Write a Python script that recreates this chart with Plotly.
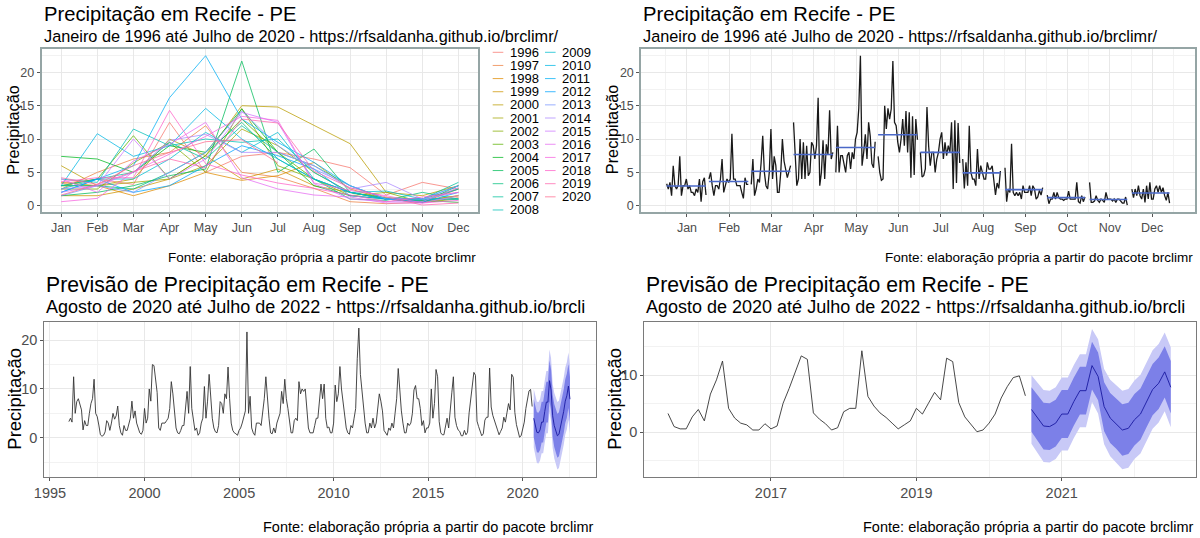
import math
import plotly.graph_objects as go

# ---------------- data ----------------
months = ["Jan", "Feb", "Mar", "Apr", "May", "Jun", "Jul", "Aug", "Sep", "Oct", "Nov", "Dec"]
years = list(range(1996, 2021))

p1996 = [3.3, 4.0, 3.2, 12.5, 5.0, 7.4, 8.0, 7.0, 5.7, 1.6, 3.5, 2.5]
p1997 = [2.5, 5.0, 7.0, 8.0, 12.0, 5.0, 4.3, 2.6, 0.6, 0.3, 0.5, 1.2]
p1998 = [3.5, 3.0, 1.5, 3.0, 5.0, 3.8, 4.5, 6.5, 2.5, 1.0, 0.5, 2.5]
p1999 = [1.5, 1.5, 2.5, 4.0, 7.5, 4.0, 5.5, 3.0, 2.0, 1.0, 0.7, 1.5]
p2000 = [6.0, 3.0, 4.0, 10.0, 7.5, 15.0, 14.8, 12.0, 9.3, 2.0, 1.5, 3.0]
p2001 = [3.0, 3.0, 3.5, 4.0, 6.0, 11.5, 9.0, 5.0, 2.0, 1.0, 0.8, 1.5]
p2002 = [2.5, 2.5, 6.4, 9.5, 5.0, 14.6, 6.0, 4.0, 1.5, 2.0, 0.5, 1.0]
p2003 = [3.0, 4.0, 10.5, 4.0, 7.5, 13.0, 8.0, 4.0, 2.0, 1.2, 1.0, 2.5]
p2004 = [7.4, 7.0, 5.0, 9.0, 8.0, 14.5, 8.0, 3.0, 1.5, 1.0, 0.8, 0.5]
p2005 = [1.5, 2.0, 3.0, 4.5, 5.5, 21.7, 5.0, 8.5, 2.0, 1.0, 0.5, 3.0]
p2006 = [3.0, 3.0, 2.5, 5.0, 8.0, 12.5, 7.0, 4.0, 1.0, 0.8, 2.0, 1.0]
p2007 = [3.0, 4.0, 5.0, 9.5, 7.0, 12.0, 8.0, 6.0, 3.0, 1.0, 1.0, 3.5]
p2008 = [4.0, 3.5, 11.5, 9.0, 10.0, 9.5, 10.0, 5.0, 2.0, 1.0, 1.0, 1.0]
p2009 = [2.5, 4.0, 4.0, 7.0, 11.0, 8.0, 11.0, 4.0, 2.0, 2.2, 1.0, 1.0]
p2010 = [3.0, 10.8, 7.4, 9.0, 14.6, 10.0, 7.0, 4.0, 2.0, 1.0, 0.7, 2.5]
p2011 = [2.0, 4.0, 6.0, 16.2, 22.5, 13.0, 9.5, 6.5, 3.0, 1.0, 1.0, 3.0]
p2012 = [2.0, 4.0, 2.0, 3.0, 6.0, 9.0, 7.5, 5.5, 1.5, 1.0, 0.5, 2.0]
p2013 = [1.5, 3.0, 2.0, 5.0, 8.0, 14.2, 9.0, 5.5, 3.0, 1.0, 1.0, 3.0]
p2014 = [2.5, 3.0, 5.0, 9.8, 10.7, 8.0, 8.0, 6.0, 2.5, 3.5, 1.0, 2.0]
p2015 = [2.0, 3.0, 10.0, 4.0, 7.0, 14.0, 12.5, 3.3, 1.0, 0.6, 0.6, 2.7]
p2016 = [4.0, 2.0, 6.7, 9.2, 12.5, 4.2, 2.5, 1.6, 1.3, 0.4, 0.4, 1.5]
p2017 = [0.6, 1.1, 5.1, 7.7, 10.4, 13.4, 12.8, 3.4, 2.3, 1.5, 0.4, 0.8]
p2018 = [3.6, 4.2, 4.2, 14.3, 6.3, 4.6, 3.4, 2.6, 1.6, 0.6, 1.3, 2.0]
p2019 = [4.2, 3.2, 5.1, 7.0, 5.7, 13.0, 12.4, 5.2, 2.7, 1.3, 0.1, 0.4]
p2020 = [1.6, 3.2, 6.0, 8.0, 9.6, 9.9, 6.4]

# forecast Aug 2020 - Jul 2022
fc_mean = [4.0, 2.5, 1.1, 1.0, 1.6, 3.2, 3.2, 5.4, 7.3, 7.3, 11.7, 9.8,
           4.5, 2.5, 1.5, 0.4, 0.7, 2.2, 3.2, 5.4, 7.5, 8.6, 10.6, 7.9]
fc_hi95 = [10.0, 8.7, 7.4, 7.3, 7.9, 9.6, 9.6, 11.8, 13.7, 13.7, 18.1, 16.3,
           11.1, 9.2, 8.3, 7.3, 7.6, 9.1, 10.1, 12.3, 14.4, 15.5, 17.5, 14.9]
fc_lo95 = [-2.0, -3.7, -5.2, -5.3, -4.7, -3.2, -3.2, -1.0, 0.9, 0.9, 5.3, 3.3,
           -2.1, -4.2, -5.3, -6.5, -6.2, -4.7, -3.7, -1.5, 0.6, 1.7, 3.7, 0.9]
fc_hi80 = [7.9, 6.5, 5.2, 5.1, 5.7, 7.4, 7.4, 9.6, 11.5, 11.5, 15.9, 14.0,
           8.8, 6.9, 5.9, 4.9, 5.2, 6.7, 7.7, 9.9, 12.0, 13.1, 15.1, 12.5]
fc_lo80 = [0.1, -1.5, -3.0, -3.1, -2.5, -1.0, -1.0, 1.2, 3.1, 3.1, 7.5, 5.6,
           0.2, -1.9, -2.9, -4.1, -3.8, -2.3, -1.3, 0.9, 3.0, 4.1, 6.1, 3.3]

by_year = [p1996, p1997, p1998, p1999, p2000, p2001, p2002, p2003, p2004, p2005,
           p2006, p2007, p2008, p2009, p2010, p2011, p2012, p2013, p2014, p2015,
           p2016, p2017, p2018, p2019, p2020]

series = [v for yr in by_year for v in yr]
t_series = [1996 + k / 12 for k in range(len(series))]
t_fc = [2020 + 7 / 12 + j / 12 for j in range(len(fc_mean))]

# ---------------- helpers ----------------
W, H = 1200, 538
FONT = "Liberation Sans, Arial, sans-serif"


def px(x):
    return x / W


def py(y):
    return 1 - y / H


def hcl_hex(h, c=100.0, l=65.0):
    wy, wu, wv = 100.0, 0.1978398, 0.4683363
    hr = math.radians(h)
    U, V = c * math.cos(hr), c * math.sin(hr)
    Y = wy * (((l + 16) / 116) ** 3 if l > 7.999592 else l / 903.3)
    u = U / (13 * l) + wu
    v = V / (13 * l) + wv
    X = 9.0 * Y * u / (4 * v)
    Z = -X / 3 - 5 * Y + 3 * Y / v

    def g(x):
        return 1.055 * x ** (1 / 2.4) - 0.055 if x > 0.00304 else 12.92 * x

    r = g((3.240479 * X - 1.537150 * Y - 0.498535 * Z) / wy)
    gg = g((-0.969256 * X + 1.875992 * Y + 0.041556 * Z) / wy)
    b = g((0.055648 * X - 0.204043 * Y + 1.057311 * Z) / wy)
    cl = [max(0, min(255, round(255 * q))) for q in (r, gg, b)]
    return "#%02x%02x%02x" % tuple(cl)


n = len(years)
colors = [hcl_hex((15 + i * 14.4) % 360) for i in range(n)]

fig = go.Figure()

# ---------------- panel 1: per-year lines ----------------
for i, yr in enumerate(years):
    vals = by_year[i]
    fig.add_trace(go.Scatter(
        x=list(range(1, len(vals) + 1)), y=vals, mode="lines",
        line=dict(color=colors[i], width=1), opacity=0.75,
        xaxis="x", yaxis="y", showlegend=False, name=str(yr)))

# ---------------- panel 2: subseries plot ----------------
for m in range(12):
    vals = [by_year[k][m] for k in range(n) if len(by_year[k]) > m]
    xs = [m + 1 - 0.48 + k * 0.03875 for k in range(len(vals))]
    fig.add_trace(go.Scatter(x=xs, y=vals, mode="lines",
                             line=dict(color="#1a1a1a", width=1.3),
                             xaxis="x2", yaxis="y2", showlegend=False))
    mu = sum(vals) / len(vals)
    fig.add_trace(go.Scatter(x=[xs[0], xs[-1]], y=[mu, mu], mode="lines",
                             line=dict(color="#4a68c8", width=1.6),
                             xaxis="x2", yaxis="y2", showlegend=False))

# ---------------- panels 3/4: series + forecast ----------------
LIGHT = "#c8c9f7"
DARK = "#7c80e8"
for xa, ya, sl in (("x3", "y3", slice(0, None)), ("x4", "y4", slice(-60, None))):
    fig.add_trace(go.Scatter(x=t_series[sl], y=series[sl], mode="lines",
                             line=dict(color="#333333", width=0.9),
                             xaxis=xa, yaxis=ya, showlegend=False))
    fig.add_trace(go.Scatter(x=t_fc, y=fc_lo95, mode="lines", line=dict(width=0, color=LIGHT),
                             xaxis=xa, yaxis=ya, showlegend=False))
    fig.add_trace(go.Scatter(x=t_fc, y=fc_hi95, mode="lines", line=dict(width=0, color=LIGHT),
                             fill="tonexty", fillcolor=LIGHT,
                             xaxis=xa, yaxis=ya, showlegend=False))
    fig.add_trace(go.Scatter(x=t_fc, y=fc_lo80, mode="lines", line=dict(width=0, color=DARK),
                             xaxis=xa, yaxis=ya, showlegend=False))
    fig.add_trace(go.Scatter(x=t_fc, y=fc_hi80, mode="lines", line=dict(width=0, color=DARK),
                             fill="tonexty", fillcolor=DARK,
                             xaxis=xa, yaxis=ya, showlegend=False))
    fig.add_trace(go.Scatter(x=t_fc, y=fc_mean, mode="lines",
                             line=dict(color="#1a1aa0", width=0.9),
                             xaxis=xa, yaxis=ya, showlegend=False))

# ---------------- axes ----------------
GRID = "#e8e8e8"
MINOR = "#f2f2f2"
TICKC = "#4d4d4d"


def axis(domain, anchor, rng, border, bw, fs, **kw):
    d = dict(domain=domain, anchor=anchor, range=rng, showline=True, mirror=True,
             linecolor=border, linewidth=bw, showgrid=True, gridcolor=GRID, gridwidth=1,
             zeroline=False, ticks="outside", ticklen=3, tickcolor="#555555",
             automargin=False,
             tickfont=dict(family=FONT, size=fs, color=TICKC), fixedrange=True)
    d.update(kw)
    return d


TOP = (48.7, 211.7)
BOT = (321.7, 476.7)
ytop = [py(TOP[1]), py(TOP[0])]
ybot = [py(BOT[1]), py(BOT[0])]
B1 = "#95a5a5"
B2 = "#7a7a7a"

fig.update_layout(
    xaxis=axis([px(41.7), px(478.3)], "y", [0.46, 12.55], B1, 2, 12.5,
               tickmode="array", tickvals=list(range(1, 13)), ticktext=months),
    yaxis=axis(ytop, "x", [-0.9, 23.55], B1, 2, 12.5, tick0=0, dtick=5,
               minor=dict(tick0=2.5, dtick=5, showgrid=True, gridcolor=MINOR, gridwidth=0.7)),
    xaxis2=axis([px(641.3), px(1195.3)], "y2", [-0.08, 13.02], B1, 2, 12.5,
                tickmode="array", tickvals=list(range(1, 13)), ticktext=months,
                minor=dict(tickmode="linear", tick0=0.5, dtick=1, showgrid=True, gridcolor=MINOR, gridwidth=0.7)),
    yaxis2=axis(ytop, "x2", [-0.9, 23.55], B1, 2, 12.5, tick0=0, dtick=5,
                minor=dict(tick0=2.5, dtick=5, showgrid=True, gridcolor=MINOR, gridwidth=0.7)),
    xaxis3=axis([px(44.3), px(595.7)], "y3", [1994.70, 2023.86], B2, 1.2, 14.5,
                tick0=1995, dtick=5,
                minor=dict(tick0=1997.5, dtick=5, showgrid=True, gridcolor=MINOR, gridwidth=0.7)),
    yaxis3=axis(ybot, "x3", [-8.0, 23.8], B2, 1.2, 14.5, tick0=0, dtick=10,
                minor=dict(tick0=5, dtick=10, showgrid=True, gridcolor=MINOR, gridwidth=0.7)),
    xaxis4=axis([px(644.3), px(1195.7)], "y4", [2015.257, 2022.843], B2, 1.2, 14.5,
                tick0=2017, dtick=2,
                minor=dict(tick0=2016, dtick=2, showgrid=True, gridcolor=MINOR, gridwidth=0.7)),
    yaxis4=axis(ybot, "x4", [-7.79, 19.4], B2, 1.2, 14.5, tick0=0, dtick=10,
                minor=dict(tick0=5, dtick=10, showgrid=True, gridcolor=MINOR, gridwidth=0.7)),
)

# ---------------- texts ----------------
ann = []
shapes = []


def text(x, y, s, size, color="#000000", xanchor="left", angle=0):
    ann.append(dict(x=px(x), y=py(y), xref="paper", yref="paper", text=s, showarrow=False,
                    xanchor=xanchor, yanchor="middle", textangle=angle,
                    font=dict(family=FONT, size=size, color=color)))


title_top = "Precipitação em Recife - PE"
sub_top = "Janeiro de 1996 até Julho de 2020 - https://rfsaldanha.github.io/brclimr/"
title_bot = "Previsão de Precipitação em Recife - PE"
sub_bot = "Agosto de 2020 até Julho de 2022 - https://rfsaldanha.github.io/brcli"
caption = "Fonte: elaboração própria a partir do pacote brclimr"
ytitle = "Precipitação"

for x0, x1 in ((41.7, 478.3), (641.3, 1195.3)):
    text(x0, 14.5, title_top, 20.2)
    text(x0, 36.0, sub_top, 16.3)
    text(x1, 257.3, caption, 13.5, xanchor="right")
text(12.3, 129.5, ytitle, 16.3, xanchor="center", angle=-90)
text(611.7, 129.5, ytitle, 16.3, xanchor="center", angle=-90)

for x0, x1, yx in ((44.3, 595.7, 13.7), (644.3, 1195.7, 613.7)):
    text(x0, 285.0, title_bot, 21.2)
    text(x0, 307.0, sub_bot, 18.0)
    text(x1, 527.0, caption, 14.5, xanchor="right")
    text(yx, 399.0, ytitle, 18.5, xanchor="center", angle=-90)

# manual two-column legend
for i, yr in enumerate(years):
    col, row = (0, i) if i < 13 else (1, i - 13)
    kx0 = 492.7 if col == 0 else 545.0
    yy = 52.3 + row * 13.14
    shapes.append(dict(type="line", xref="paper", yref="paper",
                       x0=px(kx0), x1=px(kx0 + 10.6), y0=py(yy), y1=py(yy),
                       line=dict(color=colors[i], width=1), opacity=0.75))
    text(kx0 + 15.3, yy, str(yr), 13)

fig.update_layout(
    width=W, height=H, margin=dict(l=0, r=0, t=0, b=0, autoexpand=False),
    paper_bgcolor="white", plot_bgcolor="white",
    annotations=ann, shapes=shapes, showlegend=False,
    font=dict(family=FONT),
)

fig.write_html("out.html")
